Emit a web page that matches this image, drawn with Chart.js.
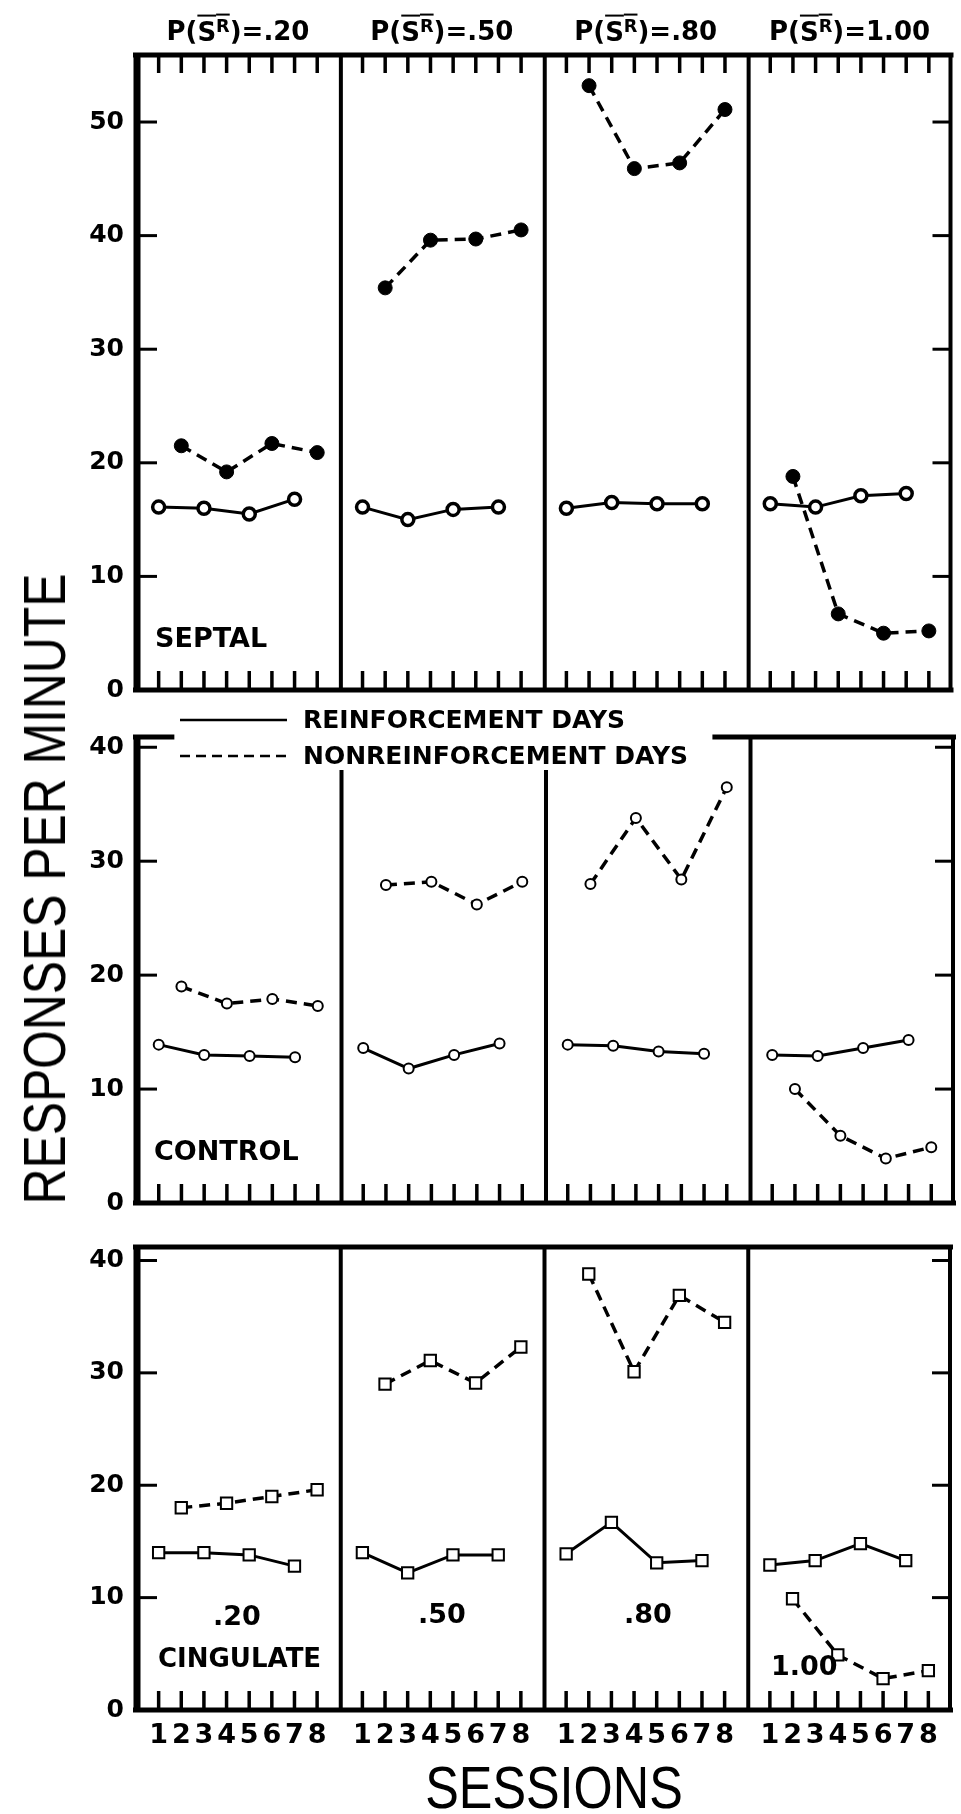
<!DOCTYPE html>
<html>
<head>
<meta charset="utf-8">
<script src="https://cdn.jsdelivr.net/npm/chart.js@4.4.1/dist/chart.umd.min.js"></script>
<style>
  html, body { margin: 0; padding: 0; background: #fff; }
  #page { position: relative; width: 961px; height: 1814px; overflow: hidden; color: #000;
          font-family: "DejaVu Sans", sans-serif; }
  canvas { position: absolute; left: 0; }
  .lbl { position: absolute; font-weight: bold; white-space: nowrap; line-height: 1; font-size: 27px; }
  .title { font-size: 26px; transform: translate(-50%, -50%); }
  .ov { text-decoration: overline; text-decoration-thickness: 2px; }
  .ov sup { font-size: 0.68em; vertical-align: 0.5em; }
  .big { position: absolute; font-family: "Liberation Sans", sans-serif; font-weight: normal;
         white-space: nowrap; line-height: 1; font-size: 60px; }
</style>
</head>
<body>
<div id="page">
  <canvas id="septal" width="961" height="730" style="top:0px"></canvas>
  <canvas id="control" width="961" height="540" style="top:700px"></canvas>
  <canvas id="cingulate" width="961" height="604" style="top:1210px"></canvas>

  <div class="big" style="left:45px; top:889px; transform: translate(-50%,-50%) rotate(-90deg) scaleX(0.83);">RESPONSES PER MINUTE</div>
  <div class="big" style="left:554px; top:1788px; transform: translate(-50%,-50%) scaleX(0.84);">SESSIONS</div>

  <div class="lbl" style="left:155px; top:637px; transform: translateY(-50%);">SEPTAL</div>
  <div class="lbl" style="left:154px; top:1150px; transform: translateY(-50%);">CONTROL</div>
  <div class="lbl" style="left:158px; top:1658px; transform: translateY(-50%); font-size:26px;">CINGULATE</div>
  <div class="lbl" style="left:237px; top:1615px; transform: translate(-50%,-50%);">.20</div>
  <div class="lbl" style="left:442px; top:1613px; transform: translate(-50%,-50%);">.50</div>
  <div class="lbl" style="left:648px; top:1613px; transform: translate(-50%,-50%);">.80</div>
  <div class="lbl" style="left:771px; top:1665px; transform: translateY(-50%);">1.00</div>
  <div id="titles"></div>
</div>

<script>
// ------------------------------------
// DATA (responses per minute)
// ------------------------------------
const probLabels = [".20", ".50", ".80", "1.00"];
const sessions = [1, 2, 3, 4, 5, 6, 7, 8];
const reinfSessions = [1, 3, 5, 7];
const nonreinfSessions = [2, 4, 6, 8];

// one inner array per P(S^R) panel: .20, .50, .80, 1.00
const septalReinf = [
  [16.1, 16.0, 15.5, 16.8],
  [16.1, 15.0, 15.9, 16.1],
  [16.0, 16.5, 16.4, 16.4],
  [16.4, 16.1, 17.1, 17.3],
];
const septalNonreinf = [
  [21.5, 19.2, 21.7, 20.9],
  [35.4, 39.6, 39.7, 40.5],
  [53.2, 45.9, 46.4, 51.1],
  [18.8, 6.7, 5.0, 5.2],
];
const controlReinf = [
  [13.9, 13.0, 12.9, 12.8],
  [13.6, 11.8, 13.0, 14.0],
  [13.9, 13.8, 13.3, 13.1],
  [13.0, 12.9, 13.6, 14.3],
];
const controlNonreinf = [
  [19.0, 17.5, 17.9, 17.3],
  [27.9, 28.2, 26.2, 28.2],
  [28.0, 33.8, 28.4, 36.5],
  [10.0, 5.9, 3.9, 4.9],
];
const cingReinf = [
  [14.0, 14.0, 13.8, 12.8],
  [14.0, 12.2, 13.8, 13.8],
  [13.9, 16.7, 13.1, 13.3],
  [12.9, 13.3, 14.8, 13.3],
];
const cingNonreinf = [
  [18.0, 18.4, 19.0, 19.6],
  [29.0, 31.1, 29.1, 32.3],
  [38.8, 30.1, 36.9, 34.5],
  [9.9, 4.9, 2.8, 3.5],
];

const septalTicks = [0, 10, 20, 30, 40, 50];
const lowerTicks = [0, 10, 20, 30, 40];

const PANEL = 9;   // x units per probability panel (8 sessions + gap)
const NPANEL = 4;
const FONT = "DejaVu Sans";

// ------------------------------------
// helpers
// ------------------------------------
function points(panel, sess, vals) {
  return vals.map((v, i) => ({ x: panel * PANEL + sess[i], y: v }));
}

function makeDatasets(reinf, nonreinf, style) {
  const ds = [];
  for (let p = 0; p < NPANEL; p++) {
    ds.push(Object.assign({ data: points(p, reinfSessions, reinf[p]) }, style.reinf));
    ds.push(Object.assign({ data: points(p, nonreinfSessions, nonreinf[p]) }, style.nonreinf));
  }
  return ds;
}

// frame, inward tick marks, panel dividers, legend
const framePlugin = {
  id: "frame",
  beforeDatasetsDraw(chart, args, opts) {
    const { ctx, chartArea: a, scales: { x, y } } = chart;
    const px = (v) => x.getPixelForValue(v);
    const py = (v) => y.getPixelForValue(v);
    const xEnd = NPANEL * PANEL;
    const line = (x1, y1, x2, y2, w) => {
      ctx.lineWidth = w;
      ctx.beginPath();
      ctx.moveTo(x1, y1);
      ctx.lineTo(x2, y2);
      ctx.stroke();
    };
    ctx.save();
    ctx.strokeStyle = "#000";
    ctx.lineCap = "butt";

    line(px(0) - 3, py(0), px(xEnd) + 2, py(0), 5);
    (opts.topSegments || [[0, xEnd]]).forEach(([s0, s1]) =>
      line(px(s0) - 3, a.top, px(s1) + 2, a.top, 5));
    line(px(0) + 1, a.top - 2, px(0) + 1, py(0) + 2, 7);
    line(px(xEnd) - 1, a.top, px(xEnd) - 1, py(0), 4);

    for (let k = 1; k < NPANEL; k++) {
      const st = opts.dividerStart ? opts.dividerStart[k - 1] : null;
      const top = st == null ? a.top : py(st);
      line(px(k * PANEL) + 1, top, px(k * PANEL) + 1, py(0), 4);
    }

    opts.yTicks.filter((v) => v > 0).forEach((v) => {
      line(px(0), py(v), px(0) + 21, py(v), 3);
      line(px(xEnd) - 19, py(v), px(xEnd), py(v), 3);
    });

    for (let p = 0; p < NPANEL; p++) {
      sessions.forEach((s) => {
        const xx = px(p * PANEL + s);
        line(xx, py(0), xx, py(0) - 19, 3.5);
        if (opts.topTicks) line(xx, a.top, xx, a.top + 18, 3.5);
      });
    }

    if (opts.legend) {
      const items = [
        ["REINFORCEMENT DAYS", chart.data.datasets[0]],
        ["NONREINFORCEMENT DAYS", chart.data.datasets[1]],
      ];
      ctx.font = "bold 25px '" + FONT + "'";
      ctx.fillStyle = "#000";
      ctx.textBaseline = "middle";
      items.forEach(([txt, ds], i) => {
        const ly = a.top - 17 + i * 36;
        ctx.setLineDash(ds.borderDash ? [10, 6] : []);
        line(px(0) + 44, ly, px(0) + 151, ly, 2.5);
        ctx.setLineDash([]);
        ctx.fillText(txt, px(0) + 167, ly + 1);
      });
    }
    ctx.restore();
  },
};

function makeChart(id, datasets, cfg) {
  return new Chart(document.getElementById(id).getContext("2d"), {
    type: "line",
    data: { datasets: datasets },
    plugins: [framePlugin],
    options: {
      responsive: false,
      animation: false,
      layout: { padding: cfg.padding },
      plugins: {
        legend: { display: false },
        tooltip: { enabled: false },
        frame: cfg.frame,
      },
      scales: {
        x: {
          type: "linear",
          min: 0,
          max: NPANEL * PANEL,
          display: cfg.showSessions,
          afterBuildTicks: (s) => {
            const t = [];
            for (let p = 0; p < NPANEL; p++) sessions.forEach((n) => t.push({ value: p * PANEL + n }));
            s.ticks = t;
          },
          afterFit: (s) => { if (cfg.showSessions) s.height = 104; },
          grid: { display: false, drawTicks: false },
          border: { display: false },
          ticks: {
            autoSkip: false,
            maxRotation: 0,
            padding: 10,
            color: "#000",
            font: { family: FONT, weight: "bold", size: 27 },
            callback: (v) => String(Math.round(v) % PANEL),
          },
        },
        y: {
          min: 0,
          max: cfg.yMax,
          afterBuildTicks: (s) => { s.ticks = cfg.frame.yTicks.map((v) => ({ value: v })); },
          afterFit: (s) => { s.width = 136; },
          grid: { display: false, drawTicks: false },
          border: { display: false },
          ticks: {
            padding: 12,
            color: "#000",
            font: { family: FONT, weight: "bold", size: 25 },
          },
        },
      },
    },
  });
}

// ------------------------------------
// STYLES per lesion group
// ------------------------------------
const solid = { borderColor: "#000", borderWidth: 3, clip: false, pointBorderColor: "#000" };
const dashed = { borderColor: "#000", borderWidth: 3.5, borderDash: [11, 7], clip: false, pointBorderColor: "#000" };

const septalStyle = {
  reinf: Object.assign({}, solid, { pointRadius: 6, pointBorderWidth: 3.5, pointBackgroundColor: "#fff" }),
  nonreinf: Object.assign({}, dashed, { pointRadius: 7, pointBorderWidth: 1, pointBackgroundColor: "#000" }),
};
const controlStyle = {
  reinf: Object.assign({}, solid, { pointRadius: 5, pointBorderWidth: 2, pointBackgroundColor: "#fff" }),
  nonreinf: Object.assign({}, dashed, { pointRadius: 5, pointBorderWidth: 2, pointBackgroundColor: "#fff" }),
};
const cingStyle = {
  reinf: Object.assign({}, solid, { pointStyle: "rect", pointRadius: 8, pointBorderWidth: 2, pointBackgroundColor: "#fff" }),
  nonreinf: Object.assign({}, dashed, { pointStyle: "rect", pointRadius: 8, pointBorderWidth: 2, pointBackgroundColor: "#fff" }),
};

// ------------------------------------
// CHARTS
// ------------------------------------
const septalChart = makeChart("septal", makeDatasets(septalReinf, septalNonreinf, septalStyle), {
  padding: { top: 55, bottom: 40, left: 0, right: 1 },
  yMax: 55.9,
  showSessions: false,
  frame: { yTicks: septalTicks, topTicks: true },
});

makeChart("control", makeDatasets(controlReinf, controlNonreinf, controlStyle), {
  padding: { top: 37, bottom: 37, left: 0, right: 1 },
  yMax: 40.9,
  showSessions: false,
  frame: { yTicks: lowerTicks, legend: true, topSegments: [[0, 1.6], [25.5, 36]], dividerStart: [38, 38, null] },
});

makeChart("cingulate", makeDatasets(cingReinf, cingNonreinf, cingStyle), {
  padding: { top: 37, bottom: 0, left: 0, right: 1 },
  yMax: 41.2,
  showSessions: true,
  frame: { yTicks: lowerTicks },
});

// panel titles above the top row
const titles = document.getElementById("titles");
probLabels.forEach((p, i) => {
  const cx = septalChart.scales.x.getPixelForValue(i * PANEL + PANEL / 2);
  const d = document.createElement("div");
  d.className = "lbl title";
  d.style.left = cx + "px";
  d.style.top = "31px";
  d.innerHTML = 'P(<span class="ov">S<sup>R</sup></span>)=' + p;
  titles.appendChild(d);
});
</script>
</body>
</html>
